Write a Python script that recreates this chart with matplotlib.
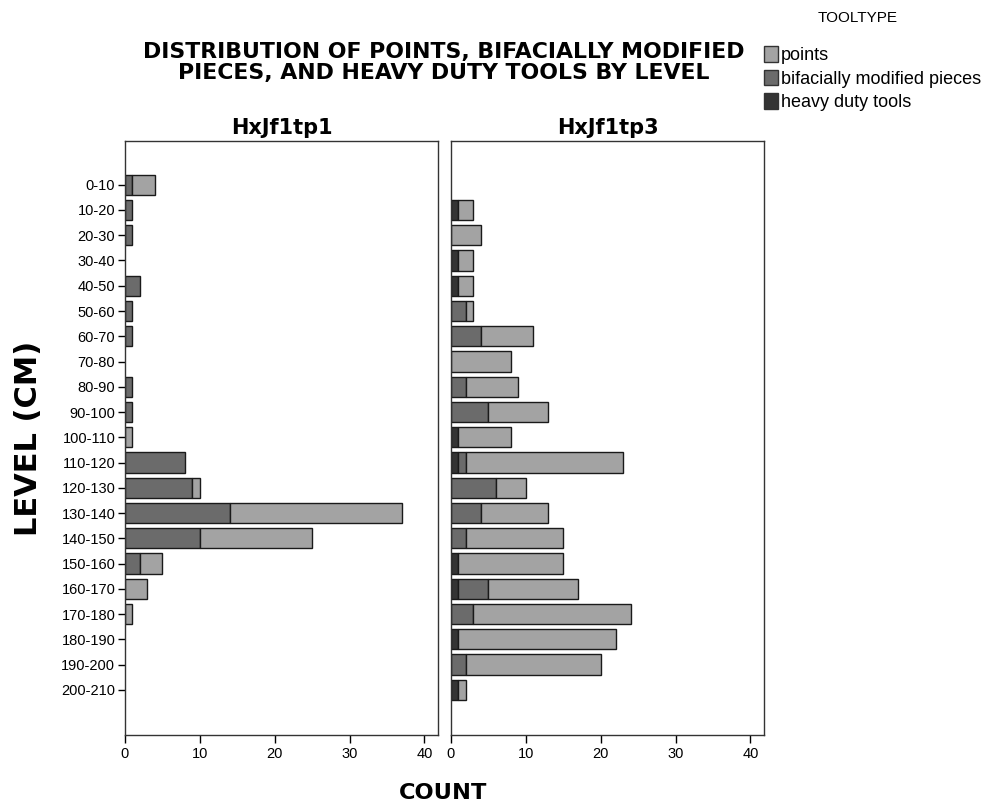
import numpy as np
import matplotlib
matplotlib.use('Agg')
from matplotlib import pyplot as plt
from matplotlib.patches import Patch

plt.rcParams['font.family'] = ['Liberation Sans', 'DejaVu Sans']

levels = ['0-10', '10-20', '20-30', '30-40', '40-50', '50-60', '60-70', '70-80',
          '80-90', '90-100', '100-110', '110-120', '120-130', '130-140', '140-150',
          '150-160', '160-170', '170-180', '180-190', '190-200', '200-210']

# counts per level, HxJf1tp1
tp1_heavy = [0, 0, 0, 0, 0, 0, 0, 0, 0, 0, 0, 0, 0, 0, 0, 0, 0, 0, 0, 0, 0]
tp1_bifacial = [1, 1, 1, 0, 2, 1, 1, 0, 1, 1, 0, 8, 9, 14, 10, 2, 0, 0, 0, 0, 0]
tp1_points = [3, 0, 0, 0, 0, 0, 0, 0, 0, 0, 1, 0, 1, 23, 15, 3, 3, 1, 0, 0, 0]

# counts per level, HxJf1tp3
tp3_heavy = [0, 1, 0, 1, 1, 0, 0, 0, 0, 0, 1, 1, 0, 0, 0, 1, 1, 0, 1, 0, 1]
tp3_bifacial = [0, 0, 0, 0, 0, 2, 4, 0, 2, 5, 0, 1, 6, 4, 2, 0, 4, 3, 0, 2, 0]
tp3_points = [0, 2, 4, 2, 2, 1, 7, 8, 7, 8, 7, 21, 4, 9, 13, 14, 12, 21, 21, 18, 1]

panels = [('HxJf1tp1', tp1_heavy, tp1_bifacial, tp1_points),
          ('HxJf1tp3', tp3_heavy, tp3_bifacial, tp3_points)]

c_points = '#a3a3a3'
c_bif = '#6b6b6b'
c_heavy = '#343434'
bold_font = ['DejaVu Sans']

fig = plt.figure(figsize=(9.92, 8.11), dpi=100)
ax_left = fig.add_axes([0.126, 0.094, 0.3155, 0.7324])
ax_right = fig.add_axes([0.4546, 0.094, 0.3155, 0.7324])


def stacked_segment(ax, y, width, left, color):
    # skip empty segments so no outline is drawn at zero
    keep = width > 0
    ax.barh(y[keep], width[keep], left=left[keep], height=0.8, color=color,
            edgecolor='#1a1a1a', linewidth=1.0)


y = np.arange(len(levels))
for ax, (name, heavy, bif, pts) in zip([ax_left, ax_right], panels):
    heavy = np.array(heavy)
    bif = np.array(bif)
    pts = np.array(pts)
    stacked_segment(ax, y, heavy, np.zeros_like(heavy), c_heavy)
    stacked_segment(ax, y, bif, heavy, c_bif)
    stacked_segment(ax, y, pts, heavy + bif, c_points)
    ax.set_xlim(0, 41.8)
    ax.set_ylim(len(levels) - 1 + 1.78, -1.74)
    ax.set_xticks([0, 10, 20, 30, 40])
    ax.tick_params(axis='x', direction='out', length=6, width=1, labelsize=10.5, pad=3)
    ax.set_title(name, fontsize=15, fontweight='bold', family=bold_font, pad=5)
    for s in ax.spines.values():
        s.set_linewidth(1)
        s.set_color('#333333')

ax_left.set_yticks(y)
ax_left.set_yticklabels(levels)
ax_left.tick_params(axis='y', direction='out', length=5, width=1, labelsize=10.5, pad=2)
ax_right.set_yticks([])

fig.text(0.447, 0.923, 'DISTRIBUTION OF POINTS, BIFACIALLY MODIFIED\nPIECES, AND HEAVY DUTY TOOLS BY LEVEL',
         ha='center', va='center', fontsize=15.8, fontweight='bold', family=bold_font,
         linespacing=1.08)
fig.text(0.029, 0.46, 'LEVEL (CM)', rotation=90, ha='center', va='center',
         fontsize=22, fontweight='bold', family=bold_font)
fig.text(0.447, 0.022, 'COUNT', ha='center', va='center', fontsize=16.2,
         fontweight='bold', family=bold_font)

fig.text(0.865, 0.978, 'TOOLTYPE', ha='center', va='center', fontsize=11)
handles = [Patch(facecolor=c_points, edgecolor='#333333', label='points'),
           Patch(facecolor=c_bif, edgecolor='#333333', label='bifacially modified pieces'),
           Patch(facecolor=c_heavy, edgecolor='#333333', label='heavy duty tools')]
fig.legend(handles=handles, loc='upper left', bbox_to_anchor=(0.770, 0.943),
           frameon=False, fontsize=13, handlelength=0.8, handleheight=0.95,
           handletextpad=0.15, labelspacing=0.3, borderaxespad=0, borderpad=0)

fig.savefig('out.png', dpi=100)
